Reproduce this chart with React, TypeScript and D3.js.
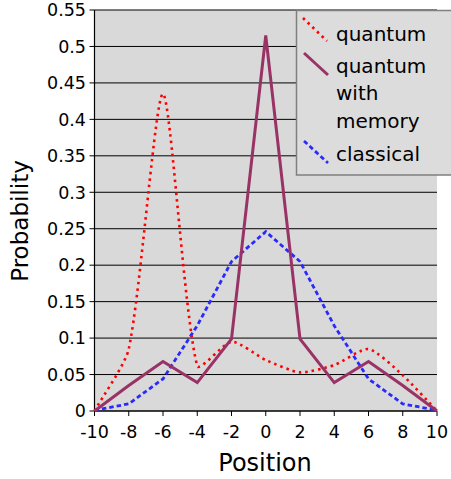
import React from "react";
import * as d3 from "d3";

const positions = [-10, -8, -6, -4, -2, 0, 2, 4, 6, 8, 10];
const quantum = [0, 0.085, 0.435, 0.062, 0.095, 0.07, 0.053, 0.063, 0.085, 0.049, 0];
const quantumMemory = [0, 0.035, 0.068, 0.039, 0.099, 0.515, 0.099, 0.039, 0.068, 0.035, 0];
const classical = [0.001, 0.0098, 0.044, 0.117, 0.205, 0.246, 0.205, 0.117, 0.044, 0.0098, 0.001];
const yTicks = [0, 0.05, 0.1, 0.15, 0.2, 0.25, 0.3, 0.35, 0.4, 0.45, 0.5, 0.55];
const xTicks = [-10, -8, -6, -4, -2, 0, 2, 4, 6, 8, 10];

const FONT = "DejaVu Sans";

// Spreadsheet-style smoothed line: Bezier segments whose control arms are
// weighted by neighbouring chord lengths (in pixel space).
function smoothPath(pts: [number, number][], k: number): string {
  const p = d3.path();
  const n = pts.length;
  if (!n) return "";
  p.moveTo(pts[0][0], pts[0][1]);
  const dist = (a: [number, number], b: [number, number]) => Math.hypot(b[0] - a[0], b[1] - a[1]);
  for (let i = 0; i < n - 1; i++) {
    const P0 = pts[Math.max(0, i - 1)];
    const P1 = pts[i];
    const P2 = pts[i + 1];
    const P3 = pts[Math.min(n - 1, i + 2)];
    const d01 = dist(P0, P1);
    const d12 = dist(P1, P2);
    const d23 = dist(P2, P3);
    const f1 = d01 + d12 > 0 ? (d12 / (d01 + d12)) * k : 0;
    const f2 = d12 + d23 > 0 ? (d12 / (d12 + d23)) * k : 0;
    const c1x = P1[0] + (P2[0] - P0[0]) * f1;
    const c1y = P1[1] + (P2[1] - P0[1]) * f1;
    const c2x = P2[0] - (P3[0] - P1[0]) * f2;
    const c2y = P2[1] - (P3[1] - P1[1]) * f2;
    p.bezierCurveTo(c1x, c1y, c2x, c2y, P2[0], P2[1]);
  }
  return p.toString();
}

export default function App() {
  const x = d3.scaleLinear().domain([-10, 10]).range([94.5, 437]);
  const y = d3.scaleLinear().domain([0, 0.55]).range([411, 10]);

  const straight = d3
    .line<number>()
    .x((_, i) => x(positions[i]))
    .y((d) => y(d));

  const quantumPts = quantum.map((v, i) => [x(positions[i]), y(v)] as [number, number]);
  const fmt = (v: number) => String(+v.toFixed(2));

  return (
    <svg
      width={451}
      height={479}
      style={{ position: "absolute", left: 0, top: 0 }}
      fontFamily={FONT}
    >
      <rect x={0} y={0} width={451} height={479} fill="#ffffff" />
      <rect x={x(-10)} y={y(0.55)} width={x(10) - x(-10)} height={y(0) - y(0.55)} fill="#d9d9d9" />
      {yTicks.map((t) => (
        <g key={t}>
          <line x1={x(-10) - 5} x2={x(10)} y1={y(t)} y2={y(t)} stroke="#000" strokeWidth={1} />
          <text x={86} y={y(t)} dy="0.36em" textAnchor="end" fontSize={17.5} fill="#000">
            {fmt(t)}
          </text>
        </g>
      ))}
      {xTicks.map((t) => (
        <g key={t}>
          <line x1={x(t)} x2={x(t)} y1={y(0)} y2={y(0) + 5} stroke="#000" strokeWidth={1} />
          <text x={x(t)} y={438} textAnchor="middle" fontSize={17.5} fill="#000">
            {t}
          </text>
        </g>
      ))}
      <line x1={x(-10)} x2={x(-10)} y1={y(0.55)} y2={y(0)} stroke="#000" strokeWidth={1.2} />
      <line x1={x(-10)} x2={x(10)} y1={y(0)} y2={y(0)} stroke="#000" strokeWidth={1.2} />

      <path d={straight(classical) || ""} fill="none" stroke="#2a2aff" strokeWidth={2.8} strokeDasharray="4.5,3" />
      <path d={smoothPath(quantumPts, 0.22)} fill="none" stroke="#ff0000" strokeWidth={2.6} strokeDasharray="2.5,4" />
      <path d={straight(quantumMemory) || ""} fill="none" stroke="#993366" strokeWidth={3} />

      <text x={265} y={471} textAnchor="middle" fontSize={24} fill="#000">
        Position
      </text>
      <text transform="translate(28,221) rotate(-90)" textAnchor="middle" fontSize={23} fill="#000">
        Probability
      </text>

      <g>
        <rect x={296.5} y={10.5} width={160} height={164.5} fill="#dcdcdc" stroke="#7f7f7f" strokeWidth={1.5} />
        <line x1={303} y1={18} x2={327} y2={41} stroke="#ff0000" strokeWidth={2.6} strokeDasharray="2.5,4" />
        <text x={336} y={41} fontSize={20} fill="#000">quantum</text>
        <line x1={304} y1={53} x2={328} y2={75} stroke="#993366" strokeWidth={3} />
        <text x={336} y={73} fontSize={20} fill="#000">quantum</text>
        <text x={336} y={100} fontSize={20} fill="#000">with</text>
        <text x={336} y={128} fontSize={20} fill="#000">memory</text>
        <line x1={304} y1={141} x2={328} y2={163} stroke="#2a2aff" strokeWidth={2.8} strokeDasharray="4.5,3" />
        <text x={336} y={161} fontSize={20} fill="#000">classical</text>
      </g>
    </svg>
  );
}
